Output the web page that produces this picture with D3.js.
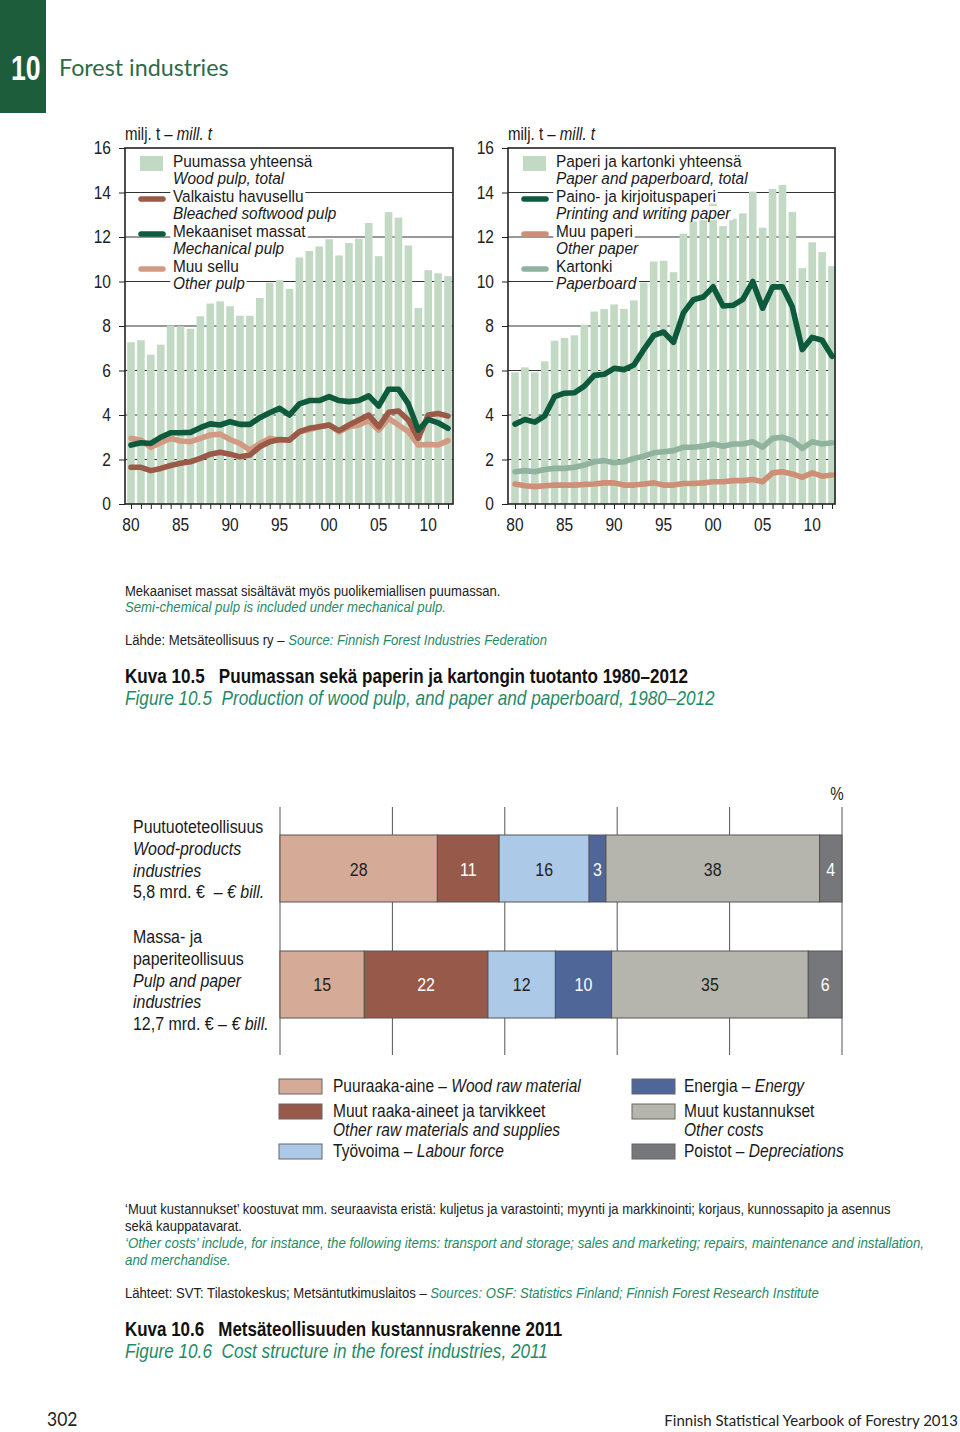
<!DOCTYPE html>
<html><head><meta charset="utf-8">
<script src="https://cdn.jsdelivr.net/npm/d3@7"></script>
<style>
html,body{margin:0;padding:0;background:#fff;}
svg{display:block;}
svg text{white-space:pre;}
</style></head>
<body>
<script>
// ---------- DATA ----------
const years = d3.range(1980, 2013);
const yTicks = [0,2,4,6,8,10,12,14,16];
const xTickYears = [1980,1985,1990,1995,2000,2005,2010];
const xTickLabels = ["80","85","90","95","00","05","10"];

const woodPulpTotal = [7.27,7.36,6.71,7.16,8.02,7.99,7.88,8.44,9.01,9.11,8.89,8.46,8.46,9.26,9.95,10.06,9.67,11.08,11.37,11.58,11.9,11.17,11.73,11.92,12.63,11.14,13.12,12.87,11.62,8.81,10.51,10.37,10.24];
const bleachedSoftwood = [1.65,1.65,1.5,1.6,1.73,1.83,1.9,2.05,2.24,2.33,2.24,2.12,2.2,2.57,2.8,2.9,2.87,3.25,3.4,3.47,3.55,3.3,3.55,3.78,4.0,3.47,4.12,4.18,3.77,2.95,4.0,4.07,3.95];
const mechanicalPulp = [2.65,2.75,2.72,3.0,3.2,3.2,3.22,3.43,3.6,3.55,3.7,3.58,3.58,3.88,4.1,4.3,4.0,4.5,4.65,4.65,4.83,4.65,4.6,4.65,4.86,4.4,5.16,5.16,4.5,3.32,3.8,3.65,3.4];
const otherPulp = [2.95,2.87,2.55,2.75,2.95,2.83,2.8,2.95,3.1,3.14,2.9,2.72,2.42,2.72,2.95,2.87,2.9,3.25,3.35,3.47,3.55,3.25,3.47,3.55,3.75,3.32,3.85,3.55,3.25,2.65,2.68,2.65,2.85];

const paperTotal = [5.92,6.14,5.92,6.41,7.34,7.46,7.58,8.06,8.65,8.76,8.97,8.77,9.15,9.95,10.9,10.93,10.42,12.15,12.7,12.95,13.5,12.49,12.82,13.06,14.04,12.42,14.16,14.34,13.12,10.6,11.76,11.32,10.69];
const printingWriting = [3.59,3.8,3.68,3.96,4.83,4.98,5.0,5.3,5.78,5.83,6.1,6.04,6.25,6.94,7.58,7.73,7.27,8.59,9.18,9.3,9.76,8.9,8.93,9.2,10.0,8.8,9.76,9.76,8.85,6.94,7.49,7.36,6.64];
const otherPaper = [0.9,0.82,0.78,0.82,0.85,0.85,0.85,0.88,0.9,0.95,0.95,0.85,0.85,0.9,0.95,0.85,0.85,0.92,0.92,0.95,1.0,1.0,1.05,1.05,1.1,1.0,1.4,1.45,1.35,1.2,1.4,1.25,1.3];
const paperboard = [1.45,1.5,1.45,1.55,1.6,1.6,1.65,1.75,1.9,1.95,1.85,1.9,2.05,2.15,2.3,2.35,2.4,2.55,2.55,2.6,2.7,2.6,2.7,2.7,2.8,2.55,2.95,3.0,2.85,2.5,2.8,2.7,2.75];

const costCategories = ["Puuraaka-aine","Muut raaka-aineet ja tarvikkeet","Työvoima","Energia","Muut kustannukset","Poistot"];
const woodProductsCosts = [28,11,16,3,38,4];
const pulpPaperCosts = [15,22,12,10,35,6];
const costTicks = [0,20,40,60,80,100];

// ---------- STYLE ----------
const SANS = "'Liberation Sans',Arial,sans-serif";
const HUM = "'Lato','Open Sans',sans-serif";
const TEAL = "#1f8a66";
const DARKGREEN = "#1e5d3b";
const BAR_GREEN = "#c2d9c4";
const SX = 0.875; // condensed look

const W = 960, H = 1432;
const svg = d3.select("body").append("svg").attr("width", W).attr("height", H);

function txt(g, x, y, parts, opts={}) {
  const sx = opts.sx !== undefined ? opts.sx : SX;
  const gg = g.append("g").attr("transform", `translate(${x},${y}) scale(${sx},1)`);
  const t = gg.append("text").attr("x",0).attr("y",0).attr("font-family",opts.family||SANS)
    .attr("font-size",opts.size||16).attr("fill",opts.fill||"#222");
  if (opts.anchor) t.attr("text-anchor",opts.anchor);
  if (opts.weight) t.attr("font-weight",opts.weight);
  parts.forEach(p => {
    const s = t.append("tspan").text(p.t);
    if (p.i) s.attr("font-style","italic");
    if (p.c) s.attr("fill",p.c);
    if (p.w) s.attr("font-weight",p.w);
  });
  return {g:gg, t};
}

// ---------- HEADER ----------
svg.append("rect").attr("x",0).attr("y",0).attr("width",46).attr("height",113).attr("fill",DARKGREEN);
txt(svg, 11, 80, [{t:"10"}], {size:36, weight:"bold", fill:"#fff", sx:0.74});
txt(svg, 59, 76, [{t:"Forest industries"}], {family:HUM, size:23.3, fill:"#2d6b4a", sx:1});

// ---------- LINE/BAR CHART PANELS ----------
function panel(cfg) {
  const g = svg.append("g");
  const x = d3.scaleLinear().domain([1980,2012]).range([cfg.x0, cfg.x1]);
  const y = d3.scaleLinear().domain([0,16]).range([504,148]);
  const bw = 7.6;
  g.append("g").selectAll("line").data(yTicks.filter(d=>d>0&&d<16)).join("line")
    .attr("x1",cfg.left).attr("x2",cfg.right).attr("y1",d=>y(d)).attr("y2",d=>y(d))
    .attr("stroke","#333").attr("stroke-width",1);
  g.append("g").selectAll("rect").data(cfg.bars).join("rect")
    .attr("x",(d,i)=>x(years[i])-bw/2).attr("width",bw)
    .attr("y",d=>y(d)).attr("height",d=>y(0)-y(d)).attr("fill",BAR_GREEN);
  const lg = g.append("g");
  const baselines = [167,184,202,219,237,254,272,289];
  const swY = [0,199,234,269];
  cfg.legend.forEach((r,k) => {
    [r.fi, r.en].forEach((s,j) => {
      const yy = baselines[k*2+j];
      const o = txt(lg, cfg.left+48, yy, [{t:s, i:j===1}], {size:17.2, fill:"#1a1a1a", sx:0.895});
      const bb = o.t.node().getBBox();
      o.g.insert("rect","text").attr("x",bb.x-3).attr("y",bb.y+3).attr("width",bb.width+5).attr("height",bb.height-5).attr("fill","#fff");
    });
    if (r.type === "bar") {
      lg.append("rect").attr("x",cfg.left+15).attr("y",156).attr("width",23).attr("height",15).attr("fill",BAR_GREEN);
    } else {
      lg.append("line").attr("x1",cfg.left+16).attr("x2",cfg.left+38).attr("y1",swY[k]).attr("y2",swY[k])
        .attr("stroke",r.color).attr("stroke-width",5.5).attr("stroke-linecap","round");
    }
  });
  const line = d3.line().x((d,i)=>x(years[i])).y(d=>y(d));
  cfg.lines.forEach(l => {
    g.append("path").attr("d",line(l.data)).attr("fill","none").attr("stroke",l.color)
      .attr("stroke-width",5.6).attr("stroke-linejoin","round").attr("stroke-linecap","round");
  });
  g.append("rect").attr("x",cfg.left).attr("y",148).attr("width",cfg.right-cfg.left).attr("height",504-148)
    .attr("fill","none").attr("stroke","#222").attr("stroke-width",1.6);
  const ya = d3.axisLeft(y).tickValues(yTicks).tickSize(6).tickFormat(()=> "");
  const yg = g.append("g").attr("transform",`translate(${cfg.left},0)`).call(ya);
  yg.select(".domain").remove();
  yg.selectAll("line").attr("stroke","#222");
  yTicks.forEach(v => txt(g, cfg.left-14, y(v)+6, [{t:String(v)}], {size:18.5, anchor:"end", fill:"#222", sx:0.84}));
  const xa = d3.axisBottom(x).tickValues(years).tickSize(5).tickFormat(()=> "");
  const xg = g.append("g").attr("transform","translate(0,504)").call(xa);
  xg.select(".domain").remove();
  xg.selectAll("line").attr("stroke","#222");
  xTickYears.forEach((v,k) => txt(g, x(v), 531, [{t:xTickLabels[k]}], {size:18.5, anchor:"middle", fill:"#222", sx:0.84}));
  txt(g, cfg.left, 140, [{t:"milj. t – "},{t:"mill. t", i:true}], {size:17.5, fill:"#1a1a1a", sx:0.86});
}

panel({left:125, right:453, x0:131, x1:448, bars:woodPulpTotal,
  legend:[
    {type:"bar", fi:"Puumassa yhteensä", en:"Wood pulp, total"},
    {type:"line", color:"#9b5a48", fi:"Valkaistu havusellu", en:"Bleached softwood pulp"},
    {type:"line", color:"#0e5a3c", fi:"Mekaaniset massat", en:"Mechanical pulp"},
    {type:"line", color:"#d39a83", fi:"Muu sellu", en:"Other pulp"}],
  lines:[
    {data:otherPulp, color:"#d39a83"},
    {data:bleachedSoftwood, color:"#9b5a48"},
    {data:mechanicalPulp, color:"#0e5a3c"}]
});
panel({left:508, right:835, x0:515, x1:832, bars:paperTotal,
  legend:[
    {type:"bar", fi:"Paperi ja kartonki yhteensä", en:"Paper and paperboard, total"},
    {type:"line", color:"#0e5a3c", fi:"Paino- ja kirjoituspaperi", en:"Printing and writing paper"},
    {type:"line", color:"#cf8f77", fi:"Muu paperi", en:"Other paper"},
    {type:"line", color:"#8fb39f", fi:"Kartonki", en:"Paperboard"}],
  lines:[
    {data:otherPaper, color:"#cf8f77"},
    {data:paperboard, color:"#8fb39f"},
    {data:printingWriting, color:"#0e5a3c"}]
});

// ---------- NOTES 10.5 ----------
const n1 = svg.append("g");
txt(n1,125,596,[{t:"Mekaaniset massat sisältävät myös puolikemiallisen puumassan."}],{size:15,fill:"#222",sx:0.87});
txt(n1,125,612,[{t:"Semi-chemical pulp is included under mechanical pulp.",i:true}],{size:15,fill:TEAL,sx:0.88});
txt(n1,125,645,[{t:"Lähde: Metsäteollisuus ry – "},{t:"Source: Finnish Forest Industries Federation",i:true,c:TEAL}],{size:15,fill:"#222",sx:0.875});
txt(n1,125,683,[{t:"Kuva 10.5   Puumassan sekä paperin ja kartongin tuotanto 1980–2012"}],{size:19.5,fill:"#111",weight:"bold",sx:0.875});
txt(n1,125,705,[{t:"Figure 10.5  Production of wood pulp, and paper and paperboard, 1980–2012",i:true}],{size:20,fill:TEAL,sx:0.86});

// ---------- COST STRUCTURE ----------
const costColors = ["#d5ab97","#975a4a","#adc9e8","#4e6698","#b5b5ad","#76777b"];
const costText = ["#222","#fff","#222","#fff","#222","#fff"];
const cx = d3.scaleLinear().domain([0,100]).range([280,842]);
const rowsData = [woodProductsCosts, pulpPaperCosts];
const rowY = d3.scaleBand().domain([0,1]).range([835,1018]).paddingInner(0.4224).paddingOuter(0);
const cg = svg.append("g");
cg.append("g").selectAll("line").data(costTicks).join("line")
  .attr("x1",d=>cx(d)).attr("x2",d=>cx(d)).attr("y1",807).attr("y2",1055)
  .attr("stroke","#555").attr("stroke-width",1);
rowsData.forEach((vals, r) => {
  let acc = 0;
  const segs = vals.map((v,i) => { const s = {v, i, a:acc}; acc += v; return s; });
  const gg = cg.append("g");
  gg.selectAll("rect").data(segs).join("rect")
    .attr("x",d=>cx(d.a)).attr("width",d=>cx(d.a+d.v)-cx(d.a))
    .attr("y",rowY(r)).attr("height",rowY.bandwidth())
    .attr("fill",d=>costColors[d.i]).attr("stroke","#555").attr("stroke-width",1);
  segs.forEach(d => txt(gg, cx(d.a+d.v/2), rowY(r)+rowY.bandwidth()/2+7, [{t:String(d.v)}],
    {size:19, anchor:"middle", fill:costText[d.i], sx:0.84}));
});
txt(cg,837,800,[{t:"%"}],{size:18,anchor:"middle",fill:"#222",sx:0.84});
const rl = [
  [833,[{t:"Puutuoteteollisuus"}]],[855,[{t:"Wood-products",i:true}]],[877,[{t:"industries",i:true}]],
  [898,[{t:"5,8 mrd. €  – "},{t:"€ bill.",i:true}]],
  [943,[{t:"Massa- ja"}]],[965,[{t:"paperiteollisuus"}]],[987,[{t:"Pulp and paper",i:true}]],[1008,[{t:"industries",i:true}]],
  [1030,[{t:"12,7 mrd. € – "},{t:"€ bill.",i:true}]]
];
rl.forEach(([yy,p]) => txt(cg,133,yy,p,{size:19,fill:"#1a1a1a",sx:0.84}));

const legItems = [
  {c:0, x:279, tx:333, sy:1079, lines:[[1092,[{t:"Puuraaka-aine – "},{t:"Wood raw material",i:true}]]]},
  {c:1, x:279, tx:333, sy:1104, lines:[[1117,[{t:"Muut raaka-aineet ja tarvikkeet"}]],[1136,[{t:"Other raw materials and supplies",i:true}]]]},
  {c:2, x:279, tx:333, sy:1144, lines:[[1157,[{t:"Työvoima – "},{t:"Labour force",i:true}]]]},
  {c:3, x:632, tx:684, sy:1079, lines:[[1092,[{t:"Energia – "},{t:"Energy",i:true}]]]},
  {c:4, x:632, tx:684, sy:1104, lines:[[1117,[{t:"Muut kustannukset"}]],[1136,[{t:"Other costs",i:true}]]]},
  {c:5, x:632, tx:684, sy:1144, lines:[[1157,[{t:"Poistot – "},{t:"Depreciations",i:true}]]]}
];
const lgc = svg.append("g");
legItems.forEach(it => {
  lgc.append("rect").attr("x",it.x).attr("y",it.sy).attr("width",43).attr("height",15)
    .attr("fill",costColors[it.c]).attr("stroke","#666").attr("stroke-width",1);
  it.lines.forEach(([yy,p]) => txt(lgc,it.tx,yy,p,{size:18.5,fill:"#1a1a1a",sx:0.84}));
});

// ---------- NOTES 10.6 ----------
const n2 = svg.append("g");
txt(n2,125,1214,[{t:"‘Muut kustannukset’ koostuvat mm. seuraavista eristä: kuljetus ja varastointi; myynti ja markkinointi; korjaus, kunnossapito ja asennus"}],{size:15,fill:"#222",sx:0.866});
txt(n2,125,1231,[{t:"sekä kauppatavarat."}],{size:15,fill:"#222",sx:0.866});
txt(n2,125,1248,[{t:"‘Other costs’ include, for instance, the following items: transport and storage; sales and marketing; repairs, maintenance and installation,",i:true}],{size:15,fill:TEAL,sx:0.887});
txt(n2,125,1265,[{t:"and merchandise.",i:true}],{size:15,fill:TEAL,sx:0.887});
txt(n2,125,1298,[{t:"Lähteet: SVT: Tilastokeskus; Metsäntutkimuslaitos – "},{t:"Sources: OSF: Statistics Finland; Finnish Forest Research Institute",i:true,c:TEAL}],{size:15,fill:"#222",sx:0.875});
txt(n2,125,1336,[{t:"Kuva 10.6   Metsäteollisuuden kustannusrakenne 2011"}],{size:19.5,fill:"#111",weight:"bold",sx:0.87});
txt(n2,125,1358,[{t:"Figure 10.6  Cost structure in the forest industries, 2011",i:true}],{size:20,fill:TEAL,sx:0.86});

// ---------- FOOTER ----------
txt(svg,47,1426,[{t:"302"}],{family:HUM,size:19,fill:"#222",sx:0.92});
txt(svg,958,1426,[{t:"Finnish Statistical Yearbook of Forestry 2013"}],{family:HUM,size:15.5,fill:"#222",anchor:"end",sx:0.97});
</script>
</body></html>
